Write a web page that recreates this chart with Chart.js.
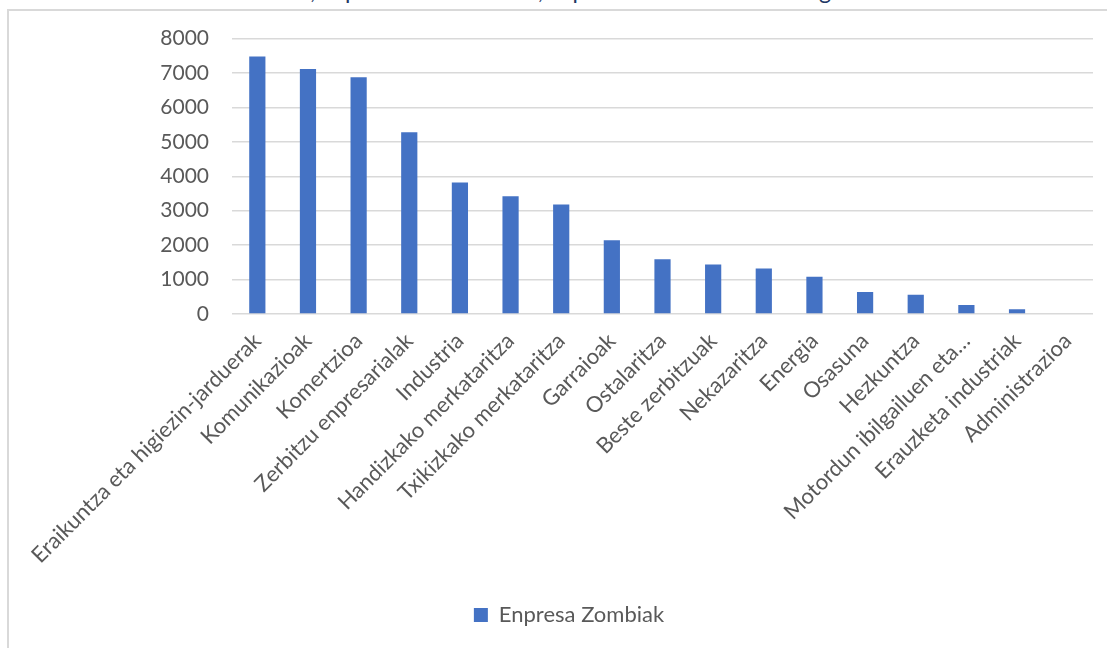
<!DOCTYPE html>
<html><head><meta charset="utf-8">
<script src="https://cdn.jsdelivr.net/npm/chart.js@4"></script>
<style>
html,body{margin:0;padding:0;background:#fff;overflow:hidden;width:1107px;height:648px;position:relative;}
#frame{position:absolute;left:7px;top:9px;width:1140px;height:700px;border:2px solid #d9d9d9;box-sizing:border-box;}
#title{position:absolute;top:-22px;left:117px;font-family:Lato;font-size:23.3px;line-height:24px;color:#1F3864;white-space:nowrap;}
#wrap{position:absolute;left:9px;top:3px;width:1120px;height:668px;}
</style></head>
<body>
<div id="title">Zombiak sektoreka, Espainian 2020 urtea, Espainiako datu osoak eta guztira</div>
<div id="frame"></div>
<div id="wrap"><canvas id="c" width="1120" height="668"></canvas></div>
<script>
const categories = [
  "Eraikuntza eta higiezin-jarduerak","Komunikazioak","Komertzioa","Zerbitzu enpresarialak",
  "Industria","Handizkako merkataritza","Txikizkako merkataritza","Garraioak","Ostalaritza",
  "Beste zerbitzuak","Nekazaritza","Energia","Osasuna","Hezkuntza",
  "Motordun ibilgailuen eta…","Erauzketa industriak","Administrazioa"
];
const zombiValues = [7480,7120,6880,5280,3820,3420,3180,2140,1590,1440,1320,1080,640,560,265,140,0];
const seriesName = "Enpresa Zombiak";
const yMin = 0, yMax = 8000, yStep = 1000;

const FONT = {family: "Lato", size: 22};
new Chart(document.getElementById('c'), {
  type: 'bar',
  data: {
    labels: categories,
    datasets: [{
      label: seriesName,
      data: zombiValues,
      backgroundColor: '#4472C4',
      barPercentage: 0.32,
      categoryPercentage: 1
    }]
  },
  options: {
    responsive: false,
    animation: false,
    layout: {padding: {top: 10, right: 36, bottom: 35, left: 36}},
    plugins: {
      legend: {
        position: 'bottom',
        labels: {boxWidth: 14, boxHeight: 14, color: '#595959', font: FONT, padding: 10}
      },
      tooltip: {enabled: false}
    },
    scales: {
      y: {
        min: yMin, max: yMax,
        ticks: {stepSize: yStep, color: '#595959', font: {family: "Lato", size: 21}, padding: 23,
                callback: v => String(v)},
        grid: {color: '#d9d9d9', lineWidth: 1.5, drawTicks: false},
        border: {display: false},
        afterFit: s => { s.width = 187; }
      },
      x: {
        ticks: {maxRotation: 45, minRotation: 45, color: '#595959', font: FONT, padding: 6, autoSkip: false},
        grid: {display: false},
        border: {display: false},
        afterFit: s => { s.height = 280; }
      }
    }
  }
});
</script>
</body></html>
